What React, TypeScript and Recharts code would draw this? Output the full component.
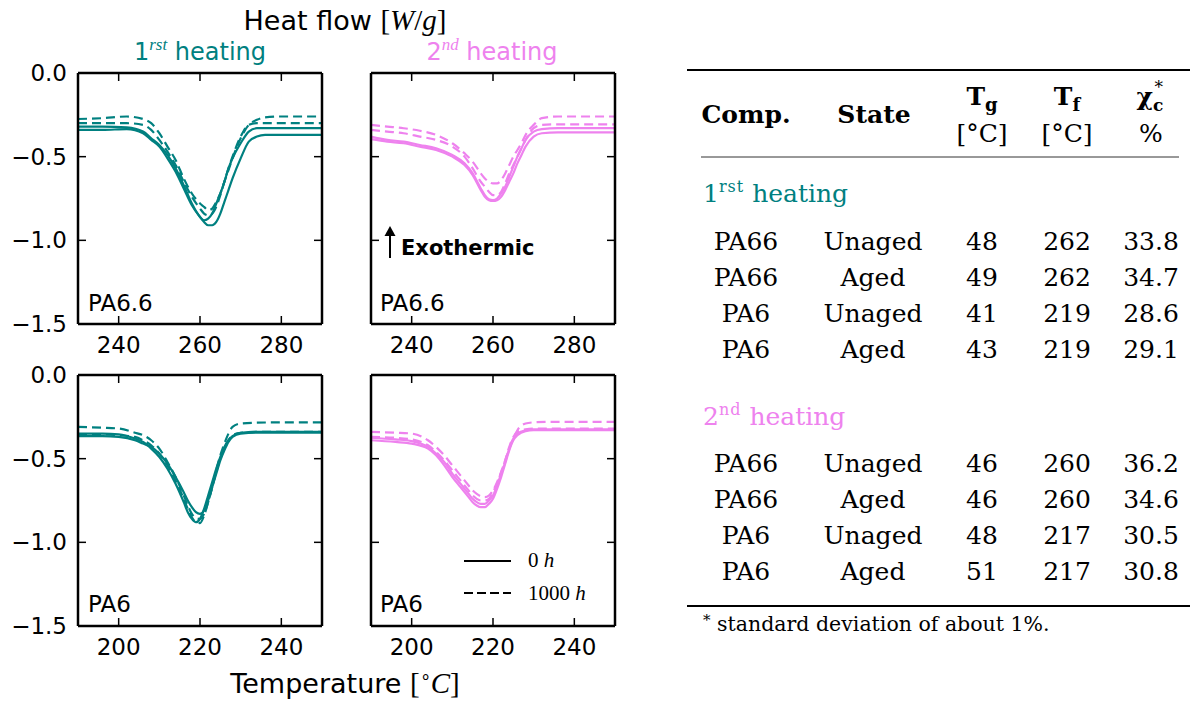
import React from "react";
import { LineChart, Line, XAxis, YAxis } from "recharts";

const TEAL = "#008080";
const VIOLET = "#ee82ee";

const Y_TICKS = [0, -0.5, -1, -1.5];

// PA6.6 – 1st heating
const tPA66H1 = [230, 236, 242, 246, 248, 250, 252, 254, 256, 258, 260, 261, 262, 263, 264, 265, 266, 267, 268, 270, 272, 274, 276, 280, 290];
const pa66H1Solid1 = [-0.32, -0.32, -0.325, -0.35, -0.39, -0.43, -0.49, -0.57, -0.67, -0.78, -0.86, -0.88, -0.87, -0.84, -0.78, -0.72, -0.65, -0.57, -0.51, -0.42, -0.35, -0.33, -0.33, -0.33, -0.33];
const pa66H1Solid2 = [-0.34, -0.34, -0.335, -0.36, -0.4, -0.44, -0.51, -0.59, -0.69, -0.79, -0.86, -0.89, -0.91, -0.91, -0.89, -0.84, -0.77, -0.7, -0.63, -0.51, -0.41, -0.38, -0.37, -0.37, -0.37];
const pa66H1Dash1 = [-0.275, -0.27, -0.26, -0.275, -0.3, -0.36, -0.44, -0.52, -0.63, -0.72, -0.78, -0.8, -0.82, -0.81, -0.77, -0.72, -0.65, -0.58, -0.51, -0.39, -0.31, -0.28, -0.265, -0.26, -0.26];
const pa66H1Dash2 = [-0.3, -0.3, -0.3, -0.31, -0.34, -0.4, -0.47, -0.55, -0.65, -0.74, -0.81, -0.84, -0.85, -0.84, -0.8, -0.73, -0.65, -0.57, -0.5, -0.38, -0.31, -0.3, -0.3, -0.3, -0.3];

// PA6.6 – 2nd heating
const tPA66H2 = [230, 234, 238, 242, 246, 250, 253, 255, 257, 258, 259, 260, 261, 262, 263, 264, 265, 266, 267, 268, 270, 272, 276, 280, 290];
const pa66H2Solid1 = [-0.38, -0.4, -0.41, -0.43, -0.45, -0.49, -0.54, -0.6, -0.69, -0.73, -0.755, -0.76, -0.75, -0.72, -0.68, -0.62, -0.56, -0.5, -0.45, -0.4, -0.35, -0.335, -0.33, -0.33, -0.33];
const pa66H2Solid2 = [-0.395, -0.41, -0.42, -0.44, -0.46, -0.5, -0.55, -0.61, -0.7, -0.74, -0.76, -0.765, -0.76, -0.74, -0.7, -0.65, -0.6, -0.54, -0.49, -0.44, -0.38, -0.36, -0.355, -0.355, -0.355];
const pa66H2Dash1 = [-0.31, -0.32, -0.33, -0.345, -0.37, -0.42, -0.48, -0.53, -0.6, -0.63, -0.65, -0.66, -0.66, -0.64, -0.6, -0.55, -0.5, -0.46, -0.42, -0.37, -0.31, -0.27, -0.26, -0.26, -0.26];
const pa66H2Dash2 = [-0.34, -0.35, -0.36, -0.38, -0.4, -0.44, -0.5, -0.57, -0.65, -0.68, -0.71, -0.73, -0.73, -0.71, -0.66, -0.6, -0.55, -0.5, -0.45, -0.4, -0.33, -0.31, -0.307, -0.307, -0.307];

// PA6 – 1st heating
const tPA6H1 = [190, 196, 200, 204, 206, 208, 210, 212, 214, 216, 217, 218, 219, 220, 221, 222, 223, 224, 225, 226, 227, 228, 230, 234, 240, 250];
const pa6H1Solid1 = [-0.35, -0.35, -0.355, -0.38, -0.4, -0.44, -0.49, -0.56, -0.65, -0.76, -0.82, -0.86, -0.88, -0.86, -0.8, -0.72, -0.64, -0.56, -0.49, -0.43, -0.39, -0.365, -0.345, -0.34, -0.34, -0.34];
const pa6H1Solid2 = [-0.365, -0.365, -0.37, -0.39, -0.41, -0.43, -0.47, -0.53, -0.61, -0.7, -0.75, -0.79, -0.82, -0.83, -0.81, -0.75, -0.67, -0.59, -0.51, -0.45, -0.4, -0.37, -0.35, -0.345, -0.345, -0.345];
const pa6H1Dash1 = [-0.31, -0.315, -0.32, -0.345, -0.36, -0.39, -0.44, -0.52, -0.61, -0.72, -0.78, -0.83, -0.855, -0.86, -0.83, -0.76, -0.67, -0.57, -0.48, -0.41, -0.35, -0.31, -0.29, -0.285, -0.283, -0.283];
const pa6H1Dash2 = [-0.355, -0.355, -0.36, -0.37, -0.39, -0.42, -0.47, -0.54, -0.63, -0.74, -0.8, -0.85, -0.88, -0.885, -0.84, -0.76, -0.67, -0.58, -0.5, -0.44, -0.39, -0.36, -0.345, -0.34, -0.34, -0.34];

// PA6 – 2nd heating
const tPA6H2 = [190, 196, 200, 204, 206, 208, 210, 212, 214, 215, 216, 217, 218, 219, 220, 221, 222, 223, 224, 225, 226, 228, 230, 234, 240, 250];
const pa6H2Solid1 = [-0.39, -0.4, -0.41, -0.44, -0.48, -0.54, -0.61, -0.67, -0.73, -0.76, -0.78, -0.79, -0.79, -0.77, -0.74, -0.68, -0.61, -0.53, -0.45, -0.39, -0.36, -0.335, -0.33, -0.33, -0.33, -0.33];
const pa6H2Solid2 = [-0.375, -0.385, -0.395, -0.43, -0.47, -0.52, -0.59, -0.65, -0.71, -0.74, -0.76, -0.77, -0.77, -0.75, -0.72, -0.66, -0.59, -0.52, -0.44, -0.38, -0.35, -0.33, -0.325, -0.325, -0.325, -0.325];
const pa6H2Dash1 = [-0.34, -0.345, -0.35, -0.39, -0.43, -0.48, -0.54, -0.6, -0.66, -0.69, -0.71, -0.725, -0.73, -0.72, -0.69, -0.64, -0.58, -0.51, -0.44, -0.38, -0.33, -0.29, -0.283, -0.28, -0.28, -0.28];
const pa6H2Dash2 = [-0.37, -0.375, -0.385, -0.42, -0.46, -0.51, -0.57, -0.63, -0.69, -0.72, -0.74, -0.75, -0.75, -0.74, -0.7, -0.65, -0.58, -0.51, -0.43, -0.37, -0.34, -0.325, -0.32, -0.32, -0.32, -0.32];

// table
const tableComp = ["PA66", "PA66", "PA6", "PA6"];
const tableState = ["Unaged", "Aged", "Unaged", "Aged"];
const tgH1 = [48, 49, 41, 43];
const tfH1 = [262, 262, 219, 219];
const chiH1 = ["33.8", "34.7", "28.6", "29.1"];
const tgH2 = [46, 46, 48, 51];
const tfH2 = [260, 260, 217, 217];
const chiH2 = ["36.2", "34.6", "30.5", "30.8"];

const PLOT_W = 244;
const PLOT_H = 251;
const AX = { stroke: "#000", strokeWidth: 2.5 };
const TL = { stroke: "#000", strokeWidth: 1.5 };
const TICK = { fill: "#000", fontSize: 23, fontFamily: "DejaVu Sans" };

const fmtY = (v: number) => (v === 0 ? "0.0" : `\u2212${Math.abs(v).toFixed(1)}`);
const blank = () => "";

function Panel({
  x,
  y,
  temps,
  solid,
  dashed,
  color,
  xDomain,
  xTicks,
  showY,
}: {
  x: number;
  y: number;
  temps: number[];
  solid: number[][];
  dashed: number[][];
  color: string;
  xDomain: [number, number];
  xTicks: number[];
  showY: boolean;
}) {
  const data = temps.map((t, i) => ({
    t,
    s0: solid[0][i],
    s1: solid[1][i],
    d0: dashed[0][i],
    d1: dashed[1][i],
  }));
  return (
    <div style={{ position: "absolute", left: x - 80, top: y - 12 }}>
      <LineChart
        width={80 + PLOT_W + 12}
        height={12 + PLOT_H + 45}
        data={data}
        margin={{ top: 11, right: 11, bottom: 0, left: 0 }}
      >
        <XAxis
          dataKey="t"
          type="number"
          domain={xDomain}
          ticks={xTicks}
          interval={0}
          allowDataOverflow
          height={45}
          tickSize={-8}
          tickMargin={21}
          tick={TICK}
          tickLine={TL}
          axisLine={AX}
        />
        <XAxis
          xAxisId="top"
          orientation="top"
          dataKey="t"
          type="number"
          domain={xDomain}
          ticks={xTicks}
          interval={0}
          allowDataOverflow
          height={1}
          tickSize={-8}
          tickFormatter={blank}
          tickLine={TL}
          axisLine={AX}
        />
        <YAxis
          type="number"
          domain={[-1.5, 0]}
          ticks={Y_TICKS}
          interval={0}
          allowDataOverflow
          width={80}
          tickSize={-8}
          tickMargin={19}
          tick={TICK}
          tickFormatter={showY ? fmtY : blank}
          tickLine={TL}
          axisLine={AX}
        />
        <YAxis
          yAxisId="right"
          orientation="right"
          type="number"
          domain={[-1.5, 0]}
          ticks={Y_TICKS}
          interval={0}
          allowDataOverflow
          width={1}
          tickSize={-8}
          tickFormatter={blank}
          tickLine={TL}
          axisLine={AX}
        />
        {["s0", "s1"].map((k) => (
          <Line key={k} type="monotone" dataKey={k} stroke={color} strokeWidth={2.2} dot={false} activeDot={false} isAnimationActive={false} />
        ))}
        {["d0", "d1"].map((k) => (
          <Line key={k} type="monotone" dataKey={k} stroke={color} strokeWidth={2.2} strokeDasharray="9 5" dot={false} activeDot={false} isAnimationActive={false} />
        ))}
      </LineChart>
    </div>
  );
}

const SERIF = "DejaVu Serif";
const COLS = [746, 873, 982, 1067, 1151];

function TableRows({ y0, tg, tf, chi }: { y0: number; tg: number[]; tf: number[]; chi: string[] }) {
  return (
    <>
      {tableComp.map((c, i) => {
        const yy = y0 + i * 36;
        const cells = [c, tableState[i], String(tg[i]), String(tf[i]), chi[i]];
        return cells.map((s, j) => (
          <text key={`${i}-${j}`} x={COLS[j]} y={yy} textAnchor="middle" fontFamily={SERIF} fontSize={25} fill="#000">
            {s}
          </text>
        ));
      })}
    </>
  );
}

export default function App() {
  return (
    <div style={{ position: "absolute", left: 0, top: 0, width: 1190, height: 701, background: "#fff", overflow: "hidden" }}>
      <Panel x={78} y={73} temps={tPA66H1} solid={[pa66H1Solid1, pa66H1Solid2]} dashed={[pa66H1Dash1, pa66H1Dash2]} color={TEAL} xDomain={[230, 290]} xTicks={[240, 260, 280]} showY />
      <Panel x={371} y={73} temps={tPA66H2} solid={[pa66H2Solid1, pa66H2Solid2]} dashed={[pa66H2Dash1, pa66H2Dash2]} color={VIOLET} xDomain={[230, 290]} xTicks={[240, 260, 280]} showY={false} />
      <Panel x={78} y={375} temps={tPA6H1} solid={[pa6H1Solid1, pa6H1Solid2]} dashed={[pa6H1Dash1, pa6H1Dash2]} color={TEAL} xDomain={[190, 250]} xTicks={[200, 220, 240]} showY />
      <Panel x={371} y={375} temps={tPA6H2} solid={[pa6H2Solid1, pa6H2Solid2]} dashed={[pa6H2Dash1, pa6H2Dash2]} color={VIOLET} xDomain={[190, 250]} xTicks={[200, 220, 240]} showY={false} />

      <svg width={1190} height={701} style={{ position: "absolute", left: 0, top: 0, pointerEvents: "none" }}>
        {/* titles */}
        <text x={345} y={30} textAnchor="middle" fontFamily="DejaVu Sans" fontSize={27} fill="#000">
          Heat flow{" "}
          <tspan fontFamily="Liberation Serif" fontSize={29}>
            [<tspan fontStyle="italic">W</tspan>/<tspan fontStyle="italic">g</tspan>]
          </tspan>
        </text>
        <text x={200} y={60} textAnchor="middle" fontFamily="DejaVu Sans" fontSize={24} fill={TEAL}>
          1<tspan fontFamily="Liberation Serif" fontStyle="italic" fontSize={17} dy={-10}>rst</tspan>
          <tspan dy={10}> heating</tspan>
        </text>
        <text x={492} y={60} textAnchor="middle" fontFamily="DejaVu Sans" fontSize={24} fill={VIOLET}>
          2<tspan fontFamily="Liberation Serif" fontStyle="italic" fontSize={17} dy={-10}>nd</tspan>
          <tspan dy={10}> heating</tspan>
        </text>
        <text x={345} y={693} textAnchor="middle" fontFamily="DejaVu Sans" fontSize={27} fill="#000">
          Temperature{" "}
          <tspan fontFamily="Liberation Serif" fontSize={29}>
            [<tspan fontSize={18} dy={-11}>{"\u2218"}</tspan>
            <tspan dy={11} fontStyle="italic">C</tspan>]
          </tspan>
        </text>

        {/* panel labels */}
        <text x={88} y={311} fontFamily="DejaVu Sans" fontSize={23} fill="#000">PA6.6</text>
        <text x={380} y={311} fontFamily="DejaVu Sans" fontSize={23} fill="#000">PA6.6</text>
        <text x={88} y={612} fontFamily="DejaVu Sans" fontSize={23} fill="#000">PA6</text>
        <text x={380} y={612} fontFamily="DejaVu Sans" fontSize={23} fill="#000">PA6</text>

        {/* exothermic arrow */}
        <line x1={390} y1={258} x2={390} y2={234} stroke="#000" strokeWidth={2} />
        <path d="M384.5,236 L390,226 L395.5,236 Z" fill="#000" />
        <text x={401} y={255} fontFamily="DejaVu Sans" fontWeight="bold" fontSize={21} fill="#000">Exothermic</text>

        {/* legend */}
        <line x1={464} y1={561} x2={511} y2={561} stroke="#000" strokeWidth={2} />
        <text x={528} y={567} fontFamily="Liberation Serif" fontSize={21} fill="#000">
          0 <tspan fontStyle="italic">h</tspan>
        </text>
        <line x1={464} y1={593} x2={511} y2={593} stroke="#000" strokeWidth={2} strokeDasharray="9 4" />
        <text x={528} y={600} fontFamily="Liberation Serif" fontSize={21} fill="#000">
          1000 <tspan fontStyle="italic">h</tspan>
        </text>

        {/* table */}
        <line x1={687} y1={70} x2={1190} y2={70} stroke="#000" strokeWidth={2} />
        <line x1={701} y1={157} x2={1179} y2={157} stroke="#333" strokeWidth={1} />
        <line x1={687} y1={606} x2={1190} y2={606} stroke="#000" strokeWidth={2} />

        <text x={746} y={123} textAnchor="middle" fontFamily={SERIF} fontWeight="bold" fontSize={25}>Comp.</text>
        <text x={874} y={123} textAnchor="middle" fontFamily={SERIF} fontWeight="bold" fontSize={25}>State</text>
        <text x={982} y={105} textAnchor="middle" fontFamily={SERIF} fontWeight="bold" fontSize={25}>
          T<tspan fontSize={18} dy={6}>g</tspan>
        </text>
        <text x={982} y={142} textAnchor="middle" fontFamily={SERIF} fontSize={25}>[°C]</text>
        <text x={1067} y={105} textAnchor="middle" fontFamily={SERIF} fontWeight="bold" fontSize={25}>
          T<tspan fontSize={18} dy={6}>f</tspan>
        </text>
        <text x={1067} y={142} textAnchor="middle" fontFamily={SERIF} fontSize={25}>[°C]</text>
        <text x={1150} y={105} textAnchor="middle" fontFamily={SERIF} fontWeight="bold" fontSize={25}>
          χ<tspan fontSize={17} dy={6}>c</tspan>
          <tspan fontSize={17} fontWeight="normal" dx={-9} dy={-18}>*</tspan>
        </text>
        <text x={1151} y={142} textAnchor="middle" fontFamily={SERIF} fontSize={25}>%</text>

        <text x={703} y={202} fontFamily={SERIF} fontSize={25} fill={TEAL}>
          1<tspan fontSize={16} dy={-10} letterSpacing={1}>rst</tspan>
          <tspan dy={10}> heating</tspan>
        </text>
        <TableRows y0={250} tg={tgH1} tf={tfH1} chi={chiH1} />

        <text x={703} y={425} fontFamily={SERIF} fontSize={25} fill={VIOLET}>
          2<tspan fontSize={16} dy={-10} letterSpacing={1}>nd</tspan>
          <tspan dy={10}> heating</tspan>
        </text>
        <TableRows y0={472} tg={tgH2} tf={tfH2} chi={chiH2} />

        <text x={703} y={631} fontFamily={SERIF} fontSize={20.5} fill="#000">
          <tspan fontSize={15} dy={-6}>*</tspan>
          <tspan dy={6}> standard deviation of about 1%.</tspan>
        </text>
      </svg>
    </div>
  );
}
